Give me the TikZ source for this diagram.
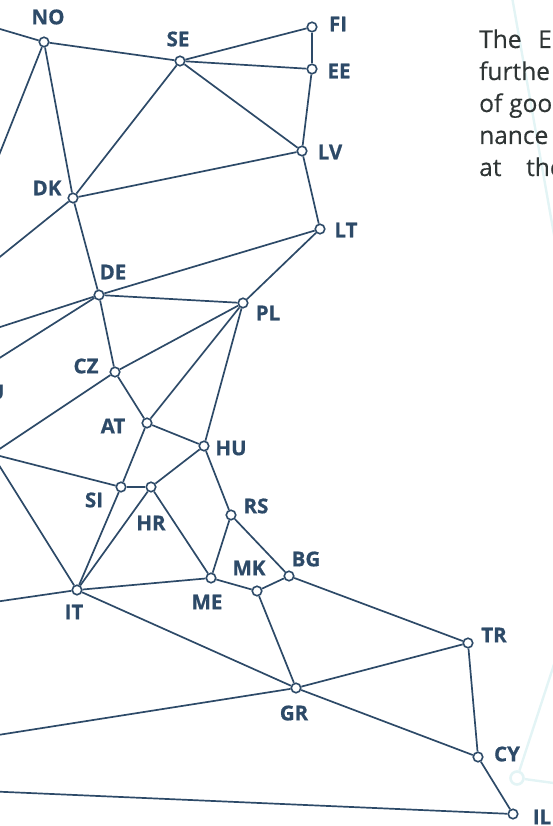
\documentclass[tikz,border=0pt]{standalone}
\usepackage{fontspec}
\setmainfont{Open Sans}
\newfontfamily\tagfont[FakeBold=0.7]{Open Sans Bold}
\newfontfamily\prosefont[FakeBold=0.35]{Open Sans}
\definecolor{net}{HTML}{2D4A68}
\definecolor{ink}{HTML}{2F3535}
\definecolor{faint}{HTML}{E3F4F5}
\tikzset{
  country/.style={circle, draw=net, fill=white, line width=1.6pt, minimum size=9.5pt, inner sep=0pt},
  tag/.style={text=net, font=\fontsize{20.5}{20.5}\tagfont, inner sep=0pt},
  link/.style={draw=net, line width=1.7pt},
  ghost/.style={draw=faint, line width=2.4pt},
  ghostnode/.style={circle, draw=faint, fill=white, line width=2.6pt, minimum size=13pt, inner sep=0pt},
  prose/.style={text=ink, font=\fontsize{24.5}{24.5}\prosefont, inner sep=0pt, anchor=base west},
}
\begin{document}
\begin{tikzpicture}[x=1pt,y=-1pt]
\useasboundingbox (0,0) rectangle (553,826);
\clip (0,0) rectangle (553,826);

% faint background network
\coordinate (g1) at (509,-20);
\coordinate (g2) at (562,280);
\draw[ghost] (g1) -- (g2);
\node[ghostnode] (gn) at (517,778) {};
\coordinate (g3) at (575,600);
\coordinate (g4) at (590,788);
\draw[ghost] (gn) -- (g3);
\draw[ghost] (gn) -- (g4);

% paragraph text running off the right edge
\node[prose] (p1a) at (479,48) {The};
\node[prose] (p1b) at (538,48) {E};
\node[prose] (p2) at (479,80) {furthe};
\node[prose] (p3a) at (479,112) {of};
\node[prose] (p3b) at (509,112) {goo};
\node[prose] (p4) at (479,144) {nance};
\node[prose] (p5a) at (479,176) {at};
\node[prose] (p5b) at (526,176) {the};

% countries
\node[country] (NO) at (44,42) {};
\node[country] (SE) at (180,61) {};
\node[country] (FI) at (312,27) {};
\node[country] (EE) at (312,69) {};
\node[country] (LV) at (302,151) {};
\node[country] (LT) at (320,229) {};
\node[country] (DK) at (73,198) {};
\node[country] (DE) at (99,295) {};
\node[country] (PL) at (243,303) {};
\node[country] (CZ) at (115,372) {};
\node[country] (AT) at (147,423) {};
\node[country] (HU) at (204,446) {};
\node[country] (SI) at (121,487) {};
\node[country] (HR) at (151,487) {};
\node[country] (RS) at (231,515) {};
\node[country] (ME) at (211,578) {};
\node[country] (MK) at (257,591) {};
\node[country] (BG) at (289,576) {};
\node[country] (IT) at (77,590) {};
\node[country] (GR) at (296,688) {};
\node[country] (TR) at (468,643) {};
\node[country] (CY) at (478,757) {};
\node[country] (IL) at (513,814) {};
\node[country] (H) at (-8,454) {};

% partners beyond the left edge
\coordinate (w1) at (-44,16);
\coordinate (w2) at (-22,208);
\coordinate (w3) at (-40,289);
\coordinate (w4) at (-40,340);
\coordinate (w5) at (-40,383);
\coordinate (w6) at (-40,607);
\coordinate (w7) at (-40,741);
\coordinate (w8) at (-40,790);

% labels
\node[tag] (lNO) at (48,17) {NO};
\node[tag] (lSE) at (178,39) {SE};
\node[tag] (lFI) at (338,24) {FI};
\node[tag] (lEE) at (339,71) {EE};
\node[tag] (lLV) at (330,152) {LV};
\node[tag] (lLT) at (346,230) {LT};
\node[tag] (lDK) at (47,188) {DK};
\node[tag] (lDE) at (113,272) {DE};
\node[tag] (lPL) at (268,313) {PL};
\node[tag] (lCZ) at (86,366) {CZ};
\node[tag] (lAT) at (113,426) {AT};
\node[tag] (lHU) at (231,448) {HU};
\node[tag] (lSI) at (94,500) {SI};
\node[tag] (lHR) at (151,523) {HR};
\node[tag] (lRS) at (256,506) {RS};
\node[tag] (lMK) at (249,568) {MK};
\node[tag] (lBG) at (306,559) {BG};
\node[tag] (lME) at (207,602) {ME};
\node[tag] (lIT) at (74,612) {IT};
\node[tag] (lTR) at (494,635) {TR};
\node[tag] (lGR) at (294,713) {GR};
\node[tag] (lCY) at (507,754) {CY};
\node[tag] (lIL) at (542,817) {IL};
\node[tag, anchor=east] (lU) at (4.5,392) {U};

% connections
\draw[link] (NO) -- (SE);
\draw[link] (NO) -- (DK);
\draw[link] (NO) -- (w1);
\draw[link] (NO) -- (w2);
\draw[link] (SE) -- (FI);
\draw[link] (SE) -- (EE);
\draw[link] (SE) -- (LV);
\draw[link] (SE) -- (DK);
\draw[link] (FI) -- (EE);
\draw[link] (EE) -- (LV);
\draw[link] (LV) -- (LT);
\draw[link] (DK) -- (LV);
\draw[link] (DK) -- (DE);
\draw[link] (DK) -- (w3);
\draw[link] (DE) -- (LT);
\draw[link] (DE) -- (PL);
\draw[link] (DE) -- (CZ);
\draw[link] (DE) -- (w4);
\draw[link] (DE) -- (w5);
\draw[link] (PL) -- (LT);
\draw[link] (PL) -- (CZ);
\draw[link] (PL) -- (AT);
\draw[link] (PL) -- (HU);
\draw[link] (CZ) -- (AT);
\draw[link] (CZ) -- (H);
\draw[link] (AT) -- (HU);
\draw[link] (AT) -- (SI);
\draw[link] (HU) -- (HR);
\draw[link] (HU) -- (RS);
\draw[link] (SI) -- (HR);
\draw[link] (SI) -- (IT);
\draw[link] (SI) -- (H);
\draw[link] (HR) -- (IT);
\draw[link] (HR) -- (ME);
\draw[link] (RS) -- (ME);
\draw[link] (RS) -- (BG);
\draw[link] (ME) -- (IT);
\draw[link] (ME) -- (MK);
\draw[link] (MK) -- (BG);
\draw[link] (MK) -- (GR);
\draw[link] (BG) -- (TR);
\draw[link] (IT) -- (GR);
\draw[link] (IT) -- (H);
\draw[link] (IT) -- (w6);
\draw[link] (GR) -- (TR);
\draw[link] (GR) -- (CY);
\draw[link] (GR) -- (w7);
\draw[link] (TR) -- (CY);
\draw[link] (CY) -- (IL);
\draw[link] (IL) -- (w8);
\end{tikzpicture}
\end{document}
